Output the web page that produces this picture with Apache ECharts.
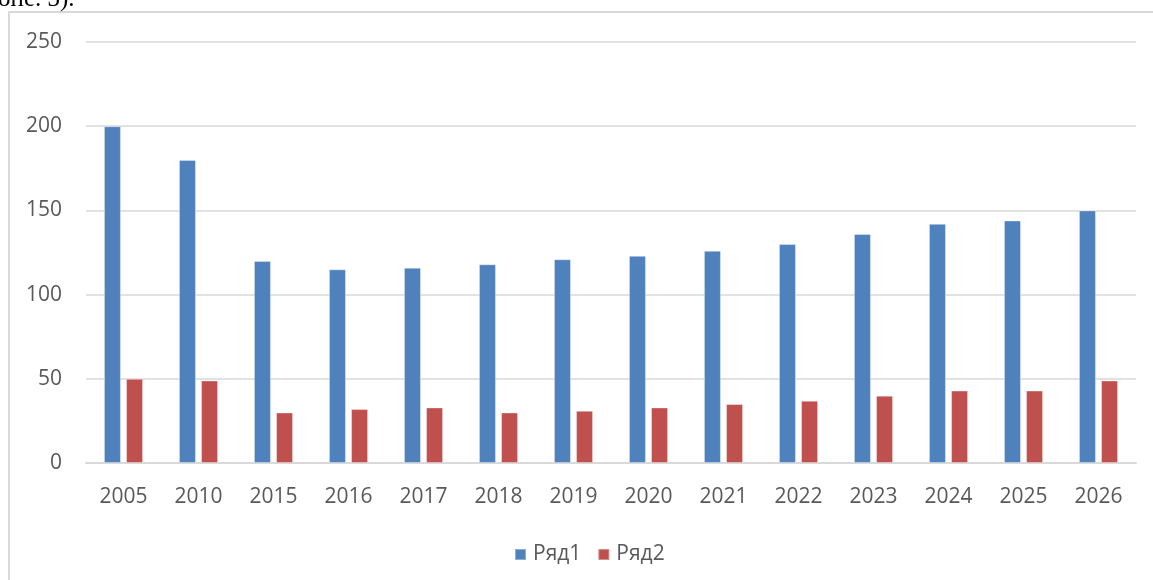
<!DOCTYPE html>
<html>
<head>
<meta charset="utf-8">
<script src="https://cdn.jsdelivr.net/npm/echarts@6/dist/echarts.min.js"></script>
<style>
  html, body { margin: 0; padding: 0; background: #fff; }
  #main { width: 1153px; height: 580px; }
</style>
</head>
<body>
<div id="main"></div>
<script>
// данные с картинки
var years = ['2005', '2010', '2015', '2016', '2017', '2018', '2019', '2020', '2021', '2022', '2023', '2024', '2025', '2026'];
var ryad1 = [200, 180, 120, 115, 116, 118, 121, 123, 126, 130, 136, 142, 144, 150];
var ryad2 = [50, 49, 30, 32, 33, 30, 31, 33, 35, 37, 40, 43, 43, 49];
var yTicks = { min: 0, max: 250, step: 50 };

var labelColor = '#595959';
var gridColor = '#d9d9d9';
var font = '"Open Sans", "Liberation Sans", sans-serif';

var chart = echarts.init(document.getElementById('main'));
var option = {
  animation: false,
  backgroundColor: '#fff',
  graphic: [
    {
      type: 'rect',
      shape: { x: 9, y: 12, width: 1200, height: 620 },
      style: { fill: 'none', stroke: gridColor, lineWidth: 2 },
      silent: true
    },
    {
      type: 'text',
      left: -2,
      top: -13,
      style: {
        text: 'оне. 3).',
        font: '25px "Liberation Serif", serif',
        fill: '#000'
      },
      silent: true
    }
  ],
  grid: { left: 86, right: 17, top: 42, bottom: 117 },
  legend: {
    data: ['Ряд1', 'Ряд2'],
    left: 509,
    top: 539,
    icon: 'rect',
    itemWidth: 11,
    itemHeight: 11,
    itemGap: 16,
    textStyle: { color: labelColor, fontSize: 21, fontFamily: font, padding: [0, 0, 0, 2] }
  },
  xAxis: {
    type: 'category',
    data: years,
    axisTick: { show: false },
    axisLine: { lineStyle: { color: gridColor, width: 2 } },
    axisLabel: { color: labelColor, fontSize: 21, fontFamily: font, margin: 24 }
  },
  yAxis: {
    type: 'value',
    min: yTicks.min,
    max: yTicks.max,
    interval: yTicks.step,
    axisLine: { show: false },
    axisTick: { show: false },
    splitLine: { lineStyle: { color: gridColor, width: 1.5 } },
    axisLabel: { color: labelColor, fontSize: 21, fontFamily: font, margin: 24 }
  },
  series: [
    {
      name: 'Ряд1',
      type: 'bar',
      data: ryad1,
      barWidth: 17,
      barGap: '30%',
      itemStyle: { color: '#4F81BD', borderColor: 'rgba(255,255,255,0.35)', borderWidth: 1 }
    },
    {
      name: 'Ряд2',
      type: 'bar',
      data: ryad2,
      barWidth: 17,
      itemStyle: { color: '#C0504D', borderColor: 'rgba(255,255,255,0.35)', borderWidth: 1 }
    }
  ]
};
chart.setOption(option);
</script>
</body>
</html>
